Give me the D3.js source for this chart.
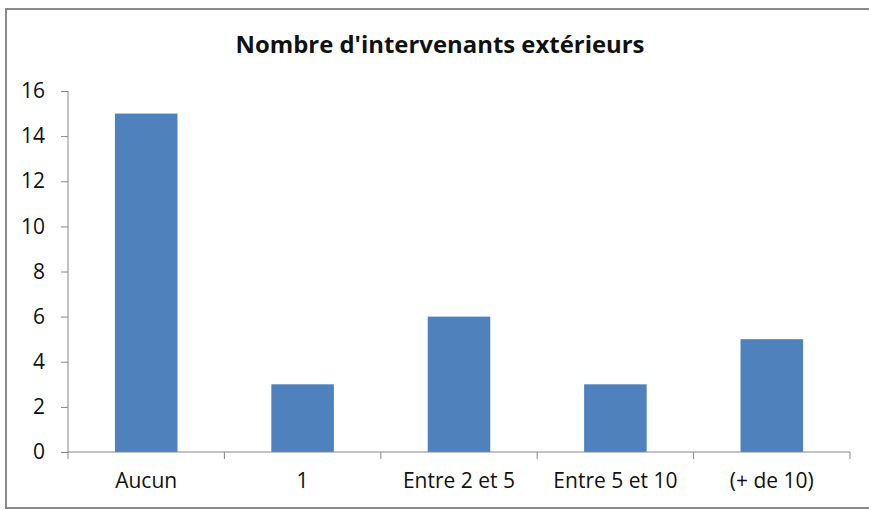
<!DOCTYPE html>
<html>
<head>
<meta charset="utf-8" />
<title></title>
<style>
html, body {
    padding: 0px;
    margin: 0px;
    width: 100%;
    height: 100%;
    background: #fff;
}
text { font-family: "Open Sans", sans-serif; fill: #111; }
.axis path, .axis line { stroke: #868686; }
</style>
</head>
<body>
<div id="chart"></div>
<script src="https://cdnjs.cloudflare.com/ajax/libs/d3/7.8.5/d3.min.js"></script>
<script>
!(function(){
    "use strict"

    var categories = ["Aucun", "1", "Entre 2 et 5", "Entre 5 et 10", "(+ de 10)"]
    var values = [15, 3, 6, 3, 5]
    var yTicks = [0, 2, 4, 6, 8, 10, 12, 14, 16]
    var title = "Nombre d'intervenants extérieurs"

    var W = 869, H = 510
    var plot = {left: 68, right: 850, top: 91, bottom: 452}

    var svg = d3.select("#chart").append("svg")
        .attr("width", W)
        .attr("height", H)

    // cadre du graphique
    svg.append("rect")
        .attr("x", 6).attr("y", 9)
        .attr("width", W + 10).attr("height", 499)
        .attr("fill", "none")
        .attr("stroke", "#8a8a8a")
        .attr("stroke-width", 2)

    svg.append("text")
        .attr("x", 440).attr("y", 53)
        .attr("text-anchor", "middle")
        .style("font-weight", "bold")
        .style("font-size", "23px")
        .attr("textLength", 409)
        .attr("lengthAdjust", "spacingAndGlyphs")
        .text(title)

    var x = d3.scaleBand()
        .domain(categories)
        .range([plot.left, plot.right])
        .paddingInner(0.6)
        .paddingOuter(0.3)

    var xTick = d3.scaleBand()
        .domain(categories)
        .range([plot.left, plot.right])

    var y = d3.scaleLinear()
        .domain([0, 16])
        .range([plot.bottom, plot.top])

    // barres
    svg.selectAll("rect.bar")
        .data(values)
        .enter()
        .append("rect")
        .attr("class", "bar")
        .attr("x", function(d, i){ return x(categories[i]) })
        .attr("width", x.bandwidth())
        .attr("y", function(d){ return y(d) })
        .attr("height", function(d){ return y(0) - y(d) })
        .attr("fill", "#4f81bd")

    // axe Y
    var yAxis = svg.append("g")
        .attr("class", "axis")
        .attr("transform", "translate(" + plot.left + ",0)")
        .call(d3.axisLeft(y).tickValues(yTicks).tickSize(7).tickPadding(16))
    yAxis.select(".domain").attr("d", "M0," + plot.top + "V" + plot.bottom)
    yAxis.selectAll("text").style("font-size", "21px").style("fill", "#111")

    // axe X
    var xAxis = svg.append("g")
        .attr("class", "axis")
        .attr("transform", "translate(0," + plot.bottom + ")")
    xAxis.append("line")
        .attr("x1", plot.left).attr("x2", plot.right)
    xAxis.selectAll("line.tk")
        .data(categories.concat([null]))
        .enter()
        .append("line")
        .attr("class", "tk")
        .attr("x1", function(d){ return d === null ? plot.right : xTick(d) })
        .attr("x2", function(d){ return d === null ? plot.right : xTick(d) })
        .attr("y1", 0).attr("y2", 7)
    xAxis.selectAll("text")
        .data(categories)
        .enter()
        .append("text")
        .attr("x", function(d){ return xTick(d) + xTick.bandwidth() / 2 })
        .attr("y", 36)
        .attr("text-anchor", "middle")
        .style("font-size", "21px")
        .text(function(d){ return d })

}());
</script>
</body>
</html>
